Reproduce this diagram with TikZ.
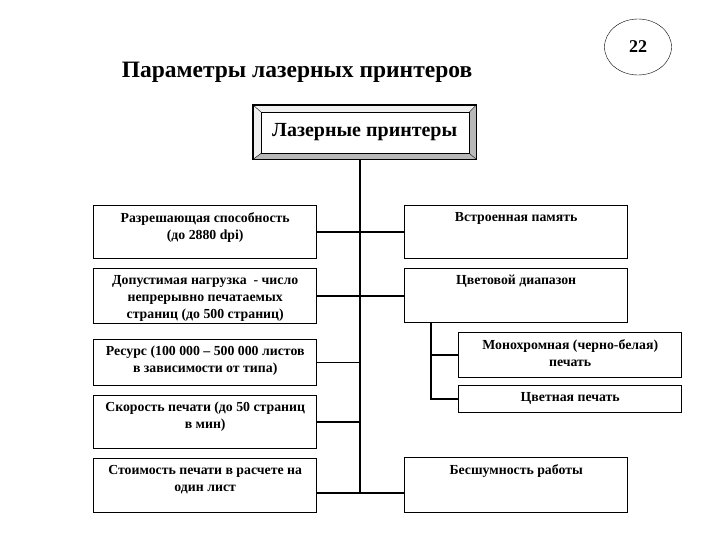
\documentclass[tikz,border=0pt]{standalone}
\usepackage{fontspec}
\setmainfont{Liberation Serif}
\usetikzlibrary{calc,shapes.geometric}
\tikzset{
  pbox/.style={draw, line width=1.4pt, anchor=north west, minimum width=223pt, inner sep=0pt},
  ptext/.style={anchor=north, yshift=-7pt, align=center, inner sep=0pt,
    font=\fontsize{13.8}{17}\selectfont\bfseries},
  link/.style={line width=1.5pt},
}
\begin{document}
\begin{tikzpicture}[x=1pt, y=-1pt]
\useasboundingbox (0,0) rectangle (720,540);
    % Заголовок и номер страницы
    \node[font=\fontsize{23.5}{26}\selectfont\bfseries] (title) at (297,72) {Параметры лазерных принтеров};
    \node[draw, thin, ellipse, minimum width=67pt, minimum height=56pt,
          font=\fontsize{18}{20}\selectfont\bfseries] (page) at (638,47) {22};

    % Верхний блок с рамкой-фаской
    \node[anchor=north west, minimum width=223pt, minimum height=54pt, inner sep=0pt,
          font=\fontsize{20}{22}\selectfont\bfseries] (top) at (253,105) {Лазерные принтеры};
    \coordinate (inw) at ($(top.north west)+(8,7)$);
    \coordinate (ine) at ($(top.north east)+(-7,7)$);
    \coordinate (ise) at ($(top.south east)+(-7,-6)$);
    \coordinate (isw) at ($(top.south west)+(8,-6)$);
    \fill[gray!12] (top.north west) -- (top.north east) -- (ine) -- (inw) -- cycle;
    \fill[gray!12] (top.north west) -- (inw) -- (isw) -- (top.south west) -- cycle;
    \fill[gray!55] (top.north east) -- (top.south east) -- (ise) -- (ine) -- cycle;
    \fill[gray!55] (top.south west) -- (isw) -- (ise) -- (top.south east) -- cycle;
    \draw[line width=1.4pt] (top.north west) rectangle (top.south east);
    \draw[thin] (inw) rectangle (ise);
    \draw[thin] (top.north west) -- (inw) (top.north east) -- (ine)
                (top.south east) -- (ise) (top.south west) -- (isw);

    % Левая колонка
    \node[pbox, minimum height=53pt, label={[ptext]north:{Разрешающая способность\\(до 2880 dpi)}}] (res) at (93,205) {};
    \node[pbox, minimum height=55pt, label={[ptext]north:{Допустимая нагрузка \ - число\\непрерывно печатаемых\\страниц (до 500 страниц)}}] (load) at (93,268) {};
    \node[pbox, minimum height=46pt, label={[ptext]north:{Ресурс (100 000 -- 500 000 листов\\в зависимости от типа)}}] (life) at (93,339) {};
    \node[pbox, minimum height=53pt, label={[ptext]north:{Скорость печати (до 50 страниц\\в мин)}}] (speed) at (93,395) {};
    \node[pbox, minimum height=54pt, label={[ptext]north:{Стоимость печати в расчете на\\один лист}}] (cost) at (93,458) {};

    % Правая колонка
    \node[pbox, minimum height=53pt, label={[ptext]north:{Встроенная память}}] (mem) at (404,205) {};
    \node[pbox, minimum height=54pt, label={[ptext]north:{Цветовой диапазон}}] (gamut) at (404,268) {};
    \node[pbox, minimum height=45pt, label={[ptext]north:{Монохромная (черно-белая)\\печать}}] (mono) at (458,332) {};
    \node[pbox, minimum height=27pt, label={[ptext]north:{Цветная печать}}] (color) at (458,385) {};
    \node[pbox, minimum height=55pt, label={[ptext]north:{Бесшумность работы}}] (quiet) at (404,457) {};

    % Соединительные линии
    \coordinate (base) at (360,493);
    \coordinate (sub) at (431,395);
    \draw[link] (top.south -| base) -- (base);
    \draw[link] (res.east) -- (mem.west);
    \draw[link] (load.east) -- (load.east -| gamut.west);
    \draw[link] (life.east) -- (life.east -| base);
    \draw[link] (speed.east) -- (speed.east -| base);
    \draw[link] (cost.east |- base) -- (quiet.west |- base);
    \draw[link] (gamut.south -| sub) |- (color.west);
    \draw[link] (mono.west) -- (mono.west -| sub);
\end{tikzpicture}
\end{document}
